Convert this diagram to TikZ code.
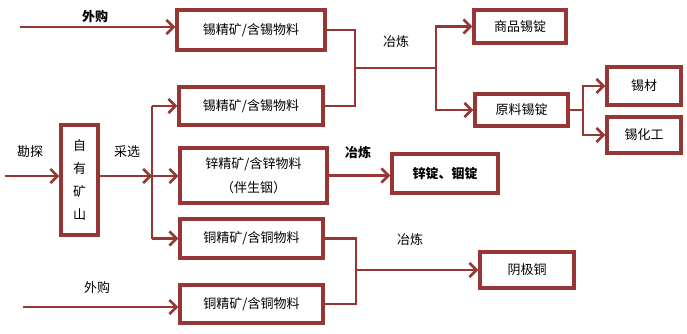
\documentclass[tikz,border=0pt]{standalone}
\usepackage{fontspec}
\setmainfont{Noto Sans CJK SC}
\usetikzlibrary{arrows.meta, positioning, calc}
\definecolor{flowred}{RGB}{150,55,53}

\begin{document}
\begin{tikzpicture}[x=1pt, y=-1pt, box/.style={draw=flowred, line width=3.5pt, rectangle, align=center, inner sep=0pt, font=\fontsize{13}{24}\selectfont}, tag/.style={inner sep=0pt, font=\fontsize{13}{16}\selectfont}, link/.style={draw=flowred, line width=2.6pt}, arrow/.style={link, -{Straight Barb[length=7pt, width=14pt, line width=2.6pt]}}]
\useasboundingbox (0,0) rectangle (687,334);
\node[box, minimum width=148pt, minimum height=40pt] (tinA) at (251,30) {锡精矿/含锡物料};
\node[box, minimum width=144pt, minimum height=38pt] (tinB) at (251,106) {锡精矿/含锡物料};
\node[box, minimum width=147pt, minimum height=55pt] (zinc) at (253.5,175.5) {锌精矿/含锌物料\\（伴生铟）};
\node[box, minimum width=143pt, minimum height=39pt] (cuA) at (251.5,238.5) {铜精矿/含铜物料};
\node[box, minimum width=143pt, minimum height=38pt] (cuB) at (251.5,304) {铜精矿/含铜物料};
\node[box, minimum width=37pt, minimum height=110pt, font=\fontsize{13}{23}\selectfont] (mine) at (79.5,180) {自\\有\\矿\\山};
\node[box, minimum width=92pt, minimum height=33pt] (ingot) at (520,26.5) {商品锡锭};
\node[box, minimum width=93pt, minimum height=32pt] (raw) at (521.5,110) {原料锡锭};
\node[box, minimum width=74pt, minimum height=38pt] (tinmat) at (644,86) {锡材};
\node[box, minimum width=74pt, minimum height=36pt] (tinchem) at (644,135) {锡化工};
\node[box, minimum width=106pt, minimum height=39pt, font=\fontsize{13}{16}\selectfont\bfseries] (znin) at (445,173.5) {锌锭、铟锭};
\node[box, minimum width=94pt, minimum height=36pt] (cathode) at (527,270) {阴极铜};
% labels
\node[tag, font=\fontsize{13}{16}\selectfont\bfseries] (buyAtag) at (95,17) {外购};
\node[tag] (buyBtag) at (97,288) {外购};
\node[tag] (surveytag) at (30,152) {勘探};
\node[tag] (selecttag) at (127,152) {采选};
\node[tag] (tinsmelt) at (396,42) {冶炼};
\node[tag, font=\fontsize{13}{16}\selectfont\bfseries] (zincsmelt) at (358,153) {冶炼};
\node[tag] (cusmelt) at (410,240) {冶炼};
% junctions
\coordinate (buyA) at (20,27);
\coordinate (buyB) at (23,307);
\coordinate (survey) at (5,176);
\coordinate (select) at (152,176);
\coordinate (tinmerge) at (355,68);
\coordinate (tinsplit) at (436,68);
\coordinate (rawsplit) at (583,110);
\coordinate (cumerge) at (356,270);
\draw[arrow] (buyA) -- (buyA -| tinA.west);
\draw[arrow] (buyB) -- (buyB -| cuB.west);
\draw[arrow] (survey) -- (survey -| mine.west);
\draw[arrow] (select -| mine.east) -- (select);
\draw[link] (select |- tinB.west) -- (select |- cuA.west);
\draw[arrow] (select |- tinB.west) -- (tinB.west);
\draw[arrow] (select) -- (select -| zinc.west);
\draw[arrow] (select |- cuA.west) -- (cuA.west);
\draw[link] (tinA.east) -| (tinmerge);
\draw[link] (tinB.east) -| (tinmerge);
\draw[link] (tinmerge) -- (tinsplit);
\draw[arrow] (tinsplit) |- (ingot.west);
\draw[arrow] (tinsplit) |- (raw.west);
\draw[link] (raw.east) -- (rawsplit);
\draw[arrow] (rawsplit) |- (tinmat.west);
\draw[arrow] (rawsplit) |- (tinchem.west);
\draw[arrow] (zinc.east) -- (zinc.east -| znin.west);
\draw[link] (cuA.east) -| (cumerge);
\draw[link] (cuB.east) -| (cumerge);
\draw[arrow] (cumerge) -- (cathode.west);
\end{tikzpicture}
\end{document}
